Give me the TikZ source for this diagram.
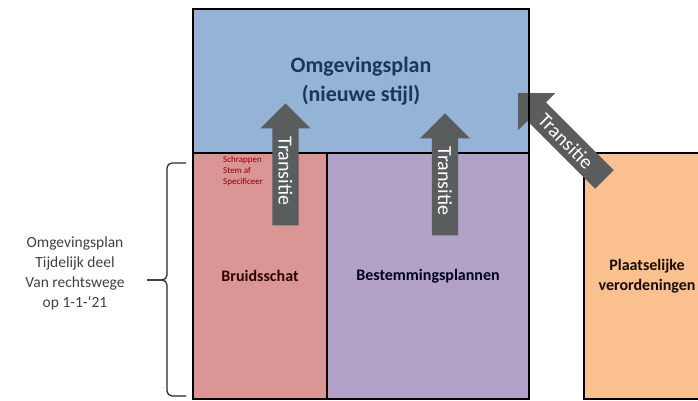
\documentclass[tikz,border=0pt]{standalone}
\usepackage{fontspec}
\setmainfont{Carlito}
\usetikzlibrary{shapes.arrows, positioning}

\definecolor{planblauw}{HTML}{95B3D7}
\definecolor{bruidrood}{HTML}{D99694}
\definecolor{bestempaars}{HTML}{B3A2C7}
\definecolor{verordoranje}{HTML}{FAC08F}
\definecolor{pijlgrijs}{HTML}{595D5D}
\definecolor{titelblauw}{HTML}{17375E}

\begin{document}
\begin{tikzpicture}[x=1pt,y=1pt,
		vak/.style={draw=black, line width=2.5pt, outer sep=0pt, inner sep=0pt, align=center, font=\bfseries\fontsize{16}{19.5}\selectfont},
		pijl/.style={single arrow, fill=pijlgrijs, text=white, font=\fontsize{20}{24}\selectfont, text height=14pt, text depth=0pt, inner ysep=6pt, inner xsep=2pt, single arrow head extend=12pt, minimum height=122pt, shape border rotate=180, anchor=tip},
		accolade/.style={draw=black!85, line width=1.2pt, rounded corners=5pt}]
		
		\useasboundingbox (0,0) rectangle (698,401);
		\clip (0,0) rectangle (698,401);
		
		\node (plan) [vak, fill=planblauw, text=titelblauw, minimum width=336pt, minimum height=144pt, font=\bfseries\fontsize{22}{29}\selectfont] at (361,320) {Omgevingsplan\\(nieuwe stijl)};
		\node (bruid) [vak, fill=bruidrood, text=black!70!red!60!black, minimum width=134pt, minimum height=246pt, anchor=north west] at (plan.south west) {Bruidsschat};
		\node (bestem) [vak, fill=bestempaars, text=black!80!blue!50!black, minimum width=202pt, minimum height=246pt, anchor=north west] at (bruid.north east) {Bestemmingsplannen};
		\node (verord) [vak, fill=verordoranje, text=black!75!orange!40!black, minimum width=126pt, minimum height=246pt, anchor=north west] at (584,248) {Plaatselijke\\verordeningen};
		
		\node (schrap) [anchor=north west, inner sep=0pt, align=left, text=red!55!black, font=\fontsize{9}{11}\selectfont] at (223,245) {Schrappen\\Stem af\\Specificeer};
		
		\node (t1) [pijl, rotate=-90] at (285.5,298) {Transitie};
		\node (t2) [pijl, rotate=-90] at (445,288) {Transitie};
		\node (t3) [pijl, rotate=-45, single arrow head extend=13pt] at (518,308) {Transitie};
		\draw [line width=2.5pt] (plan.north east) -- (plan.south east);
		
		\coordinate (bk) at (186,238);
		\coordinate (bo) at (186,5);
		\coordinate (bm) at (167,121);
		\coordinate (bp) at (147,121);
		\draw [accolade] (bk) -| (bm) -- (bp);
		\draw [accolade] (bo) -| (bm) -- (bp);
		
		\node (deel) [align=center, text=black!75, font=\fontsize{15.5}{20}\selectfont] at (75,128) {Omgevingsplan\\Tijdelijk deel\\Van rechtswege\\op 1-1-‘21};
	\end{tikzpicture}
\end{document}
